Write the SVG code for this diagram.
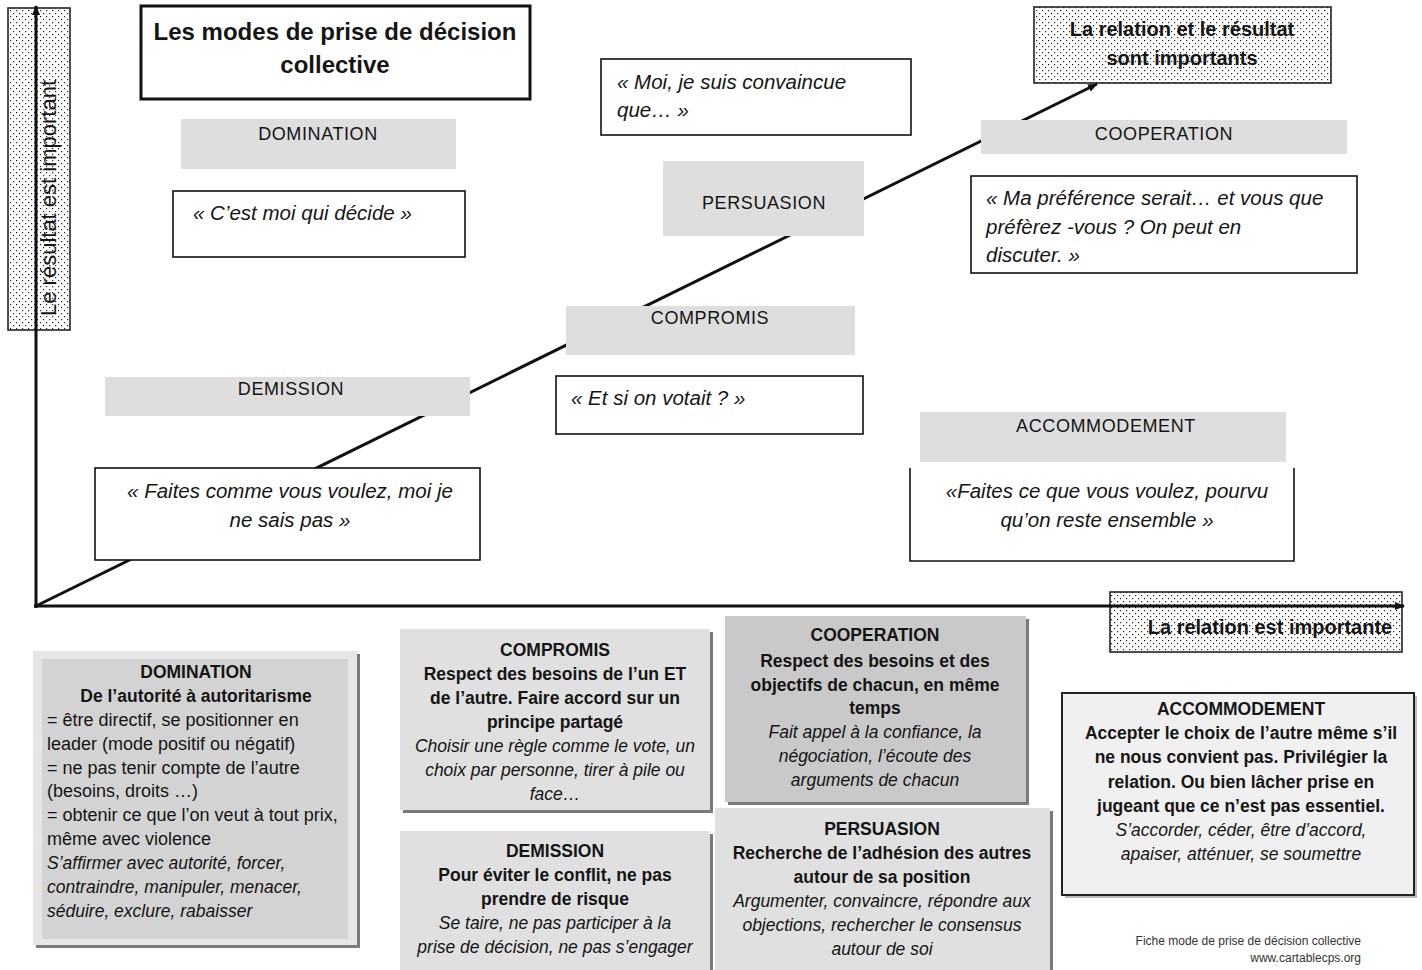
<svg xmlns="http://www.w3.org/2000/svg" width="1422" height="970" viewBox="0 0 1422 970">
<style>
text{font-family:"Liberation Sans",Arial,sans-serif;fill:#151515}
.t{font-size:24px;font-weight:bold;text-anchor:middle}
.lab{font-size:18px;letter-spacing:0.6px;text-anchor:middle}
.q{font-size:20.5px;font-style:italic}
.qc{font-size:20.5px;font-style:italic;text-anchor:middle}
.dt{font-size:20px;font-weight:bold;text-anchor:middle}
.b{font-size:17.5px;font-weight:bold;text-anchor:middle}
.r{font-size:18px}
.i{font-size:17.5px;font-style:italic}
.ic{font-size:17.5px;font-style:italic;text-anchor:middle}
.gray{fill:#dedede}
.qbox{fill:#fff;stroke:#111;stroke-width:1.6}
.dot{fill:url(#dots);stroke:#222;stroke-width:1.6}
.sh{fill:#7a7a7a}
.foot{font-size:12px;text-anchor:end;fill:#333}
</style>
<defs>
<pattern id="dots" width="6" height="6" patternUnits="userSpaceOnUse">
<rect width="6" height="6" fill="#fff"/>
<rect x="1" y="1" width="1.2" height="1.2" fill="#222"/>
<rect x="4" y="4" width="1.2" height="1.2" fill="#222"/>
</pattern>
<marker id="ah" markerWidth="10" markerHeight="8" refX="9" refY="4" orient="auto" markerUnits="userSpaceOnUse">
<path d="M0,0 L10,4 L0,8 z" fill="#111"/>
</marker>
</defs>
<rect width="1422" height="970" fill="#fff"/>

<g id="axis-y-label">
<rect class="dot" x="8" y="8" width="62" height="322"/>
<text style="font-size:22px;text-anchor:middle" transform="translate(56,198) rotate(-90)">Le résultat est important</text>
</g>
<g id="label-both">
<rect class="dot" x="1034" y="7" width="297" height="76"/>
<text class="dt" x="1182" y="36">La relation et le résultat</text>
<text class="dt" x="1182" y="65">sont importants</text>
</g>
<g id="axis-x-label">
<rect class="dot" x="1110" y="592" width="292" height="60"/>
<text class="dt" x="1270" y="634">La relation est importante</text>
</g>

<g id="connectors" stroke="#111" fill="none">
<line x1="36" y1="608" x2="36" y2="6" stroke-width="3" marker-end="url(#ah)"/>
<line x1="34" y1="606" x2="1404" y2="606" stroke-width="3" marker-end="url(#ah)"/>
<line x1="36" y1="606" x2="1097" y2="84" stroke-width="3" marker-end="url(#ah)"/>
</g>

<g id="title">
<rect x="141" y="6" width="389" height="93" fill="#fff" stroke="#111" stroke-width="3"/>
<text class="t" x="335" y="40">Les modes de prise de décision</text>
<text class="t" x="335" y="73">collective</text>
</g>

<g id="domination">
<rect class="gray" x="181" y="119" width="275" height="50"/>
<text class="lab" x="318" y="140">DOMINATION</text>
<rect class="qbox" x="173" y="191" width="292" height="66"/>
<text class="q" x="193" y="220">« C’est moi qui décide »</text>
</g>

<g id="persuasion">
<rect class="qbox" x="601" y="59" width="310" height="76"/>
<text class="q" x="617" y="89">« Moi, je suis convaincue</text>
<text class="q" x="617" y="117">que… »</text>
<rect class="gray" x="663" y="161" width="201" height="75"/>
<text class="lab" x="764" y="209">PERSUASION</text>
</g>

<g id="compromis">
<rect class="gray" x="566" y="306" width="289" height="49"/>
<text class="lab" x="710" y="324">COMPROMIS</text>
<rect class="qbox" x="556" y="376" width="307" height="58"/>
<text class="q" x="571" y="405">« Et si on votait ? »</text>
</g>

<g id="demission">
<rect class="gray" x="105" y="377" width="365" height="39"/>
<text class="lab" x="291" y="395">DEMISSION</text>
<rect class="qbox" x="95" y="468" width="385" height="92"/>
<text class="qc" x="290" y="498">« Faites comme vous voulez, moi je</text>
<text class="qc" x="290" y="527">ne sais pas »</text>
</g>

<g id="cooperation">
<rect class="gray" x="981" y="120" width="366" height="34"/>
<text class="lab" x="1164" y="140">COOPERATION</text>
<rect class="qbox" x="971" y="176" width="386" height="97"/>
<text class="q" x="986" y="205">« Ma préférence serait… et vous que</text>
<text class="q" x="986" y="234">préfèrez -vous ? On peut en</text>
<text class="q" x="986" y="262">discuter. »</text>
</g>

<g id="accommodement">
<rect x="910" y="468" width="384" height="93" fill="#fff"/>
<path d="M910,468 V561 H1294 V468" fill="none" stroke="#111" stroke-width="1.6"/>
<rect class="gray" x="920" y="412" width="366" height="50"/>
<text class="lab" x="1106" y="432">ACCOMMODEMENT</text>
<text class="qc" x="1107" y="498">«Faites ce que vous voulez, pourvu</text>
<text class="qc" x="1107" y="527">qu’on reste ensemble »</text>
</g>

<g id="card-domination">
<rect class="sh" x="36" y="654" width="324" height="294"/>
<rect x="33" y="651" width="324" height="294" fill="#e6e6e6"/>
<rect x="42" y="659" width="306" height="280" fill="#d3d3d3"/>
<text class="b" x="196" y="678">DOMINATION</text>
<text class="b" x="196" y="702">De l’autorité à autoritarisme</text>
<text class="r" x="47" y="726">= être directif, se  positionner en</text>
<text class="r" x="47" y="750">leader (mode positif ou négatif)</text>
<text class="r" x="47" y="774">= ne pas tenir compte de l’autre</text>
<text class="r" x="47" y="797"> (besoins, droits …)</text>
<text class="r" x="47" y="821">= obtenir ce que l’on veut à tout prix,</text>
<text class="r" x="47" y="845">même avec violence</text>
<text class="i" x="47" y="869">S’affirmer avec autorité, forcer,</text>
<text class="i" x="47" y="893">contraindre, manipuler, menacer,</text>
<text class="i" x="47" y="917">séduire, exclure, rabaisser</text>
</g>

<g id="card-compromis">
<rect class="sh" x="403" y="632" width="310" height="181"/>
<rect x="400" y="629" width="310" height="181" fill="#e0e0e0"/>
<text class="b" x="555" y="656">COMPROMIS</text>
<text class="b" x="555" y="680">Respect des besoins de l’un ET</text>
<text class="b" x="555" y="704">de l’autre. Faire accord sur un</text>
<text class="b" x="555" y="728">principe partagé</text>
<text class="ic" x="555" y="752">Choisir une règle comme le vote, un</text>
<text class="ic" x="555" y="776">choix par personne,  tirer à pile ou</text>
<text class="ic" x="555" y="800">face…</text>
</g>

<g id="card-demission">
<rect class="sh" x="403" y="834" width="310" height="140"/>
<rect x="400" y="831" width="310" height="140" fill="#e0e0e0"/>
<text class="b" x="555" y="857">DEMISSION</text>
<text class="b" x="555" y="881">Pour éviter le conflit, ne pas</text>
<text class="b" x="555" y="905">prendre de risque</text>
<text class="ic" x="555" y="929">Se taire, ne pas participer à la</text>
<text class="ic" x="555" y="953">prise de décision, ne pas s’engager</text>
</g>

<g id="card-cooperation">
<rect class="sh" x="728" y="619" width="301" height="186"/>
<rect x="725" y="616" width="301" height="186" fill="#c9c9c9"/>
<text class="b" x="875" y="641">COOPERATION</text>
<text class="b" x="875" y="667">Respect des besoins et des</text>
<text class="b" x="875" y="691">objectifs de chacun, en même</text>
<text class="b" x="875" y="714">temps</text>
<text class="ic" x="875" y="738">Fait appel à la confiance, la</text>
<text class="ic" x="875" y="762">négociation, l’écoute des</text>
<text class="ic" x="875" y="786">arguments de chacun</text>
</g>

<g id="card-persuasion">
<rect class="sh" x="718" y="811" width="335" height="163"/>
<rect x="715" y="808" width="335" height="163" fill="#e0e0e0"/>
<text class="b" x="882" y="835">PERSUASION</text>
<text class="b" x="882" y="859">Recherche de l’adhésion des autres</text>
<text class="b" x="882" y="883">autour de sa position</text>
<text class="ic" x="882" y="907">Argumenter, convaincre, répondre aux</text>
<text class="ic" x="882" y="931">objections, rechercher le consensus</text>
<text class="ic" x="882" y="955">autour de soi</text>
</g>

<g id="card-accommodement">
<rect x="1065" y="696" width="352" height="202" fill="#bbb"/>
<rect x="1062" y="693" width="352" height="202" fill="#f0f0f0" stroke="#222" stroke-width="2"/>
<text class="b" x="1241" y="715">ACCOMMODEMENT</text>
<text class="b" x="1241" y="739">Accepter le choix de l’autre même s’il</text>
<text class="b" x="1241" y="763">ne nous convient pas. Privilégier la</text>
<text class="b" x="1241" y="788">relation. Ou bien lâcher prise en</text>
<text class="b" x="1241" y="812">jugeant que ce n’est pas essentiel.</text>
<text class="ic" x="1241" y="836">S’accorder, céder, être d’accord,</text>
<text class="ic" x="1241" y="860">apaiser, atténuer, se soumettre</text>
</g>

<g id="footer">
<text class="foot" x="1361" y="945">Fiche mode de prise de décision collective</text>
<text class="foot" x="1361" y="962">www.cartablecps.org</text>
</g>
</svg>
